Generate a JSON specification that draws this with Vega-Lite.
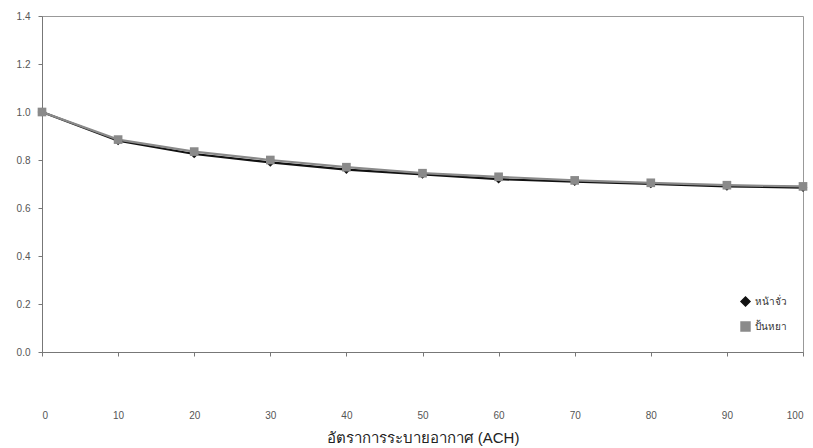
{
  "$schema": "https://vega.github.io/schema/vega-lite/v6.json",
  "width": 761,
  "height": 336,
  "autosize": {"type": "none"},
  "padding": {"left": 42, "top": 16, "right": 10, "bottom": 96},
  "background": "white",
  "config": {
    "view": {"stroke": "#999999", "strokeWidth": 1},
    "font": "Liberation Sans",
    "axis": {"grid": false, "domainColor": "#777777", "tickColor": "#777777", "labelColor": "#555555", "labelFont": "Liberation Sans", "labelFontSize": 10}
  },
  "data": {
    "values": [
      {"ach": 0, "v": 1.0, "s": "หน้าจั่ว"},
      {"ach": 10, "v": 0.88, "s": "หน้าจั่ว"},
      {"ach": 20, "v": 0.825, "s": "หน้าจั่ว"},
      {"ach": 30, "v": 0.79, "s": "หน้าจั่ว"},
      {"ach": 40, "v": 0.76, "s": "หน้าจั่ว"},
      {"ach": 50, "v": 0.74, "s": "หน้าจั่ว"},
      {"ach": 60, "v": 0.72, "s": "หน้าจั่ว"},
      {"ach": 70, "v": 0.71, "s": "หน้าจั่ว"},
      {"ach": 80, "v": 0.70, "s": "หน้าจั่ว"},
      {"ach": 90, "v": 0.69, "s": "หน้าจั่ว"},
      {"ach": 100, "v": 0.685, "s": "หน้าจั่ว"},
      {"ach": 0, "v": 1.0, "s": "ปั้นหยา"},
      {"ach": 10, "v": 0.885, "s": "ปั้นหยา"},
      {"ach": 20, "v": 0.835, "s": "ปั้นหยา"},
      {"ach": 30, "v": 0.80, "s": "ปั้นหยา"},
      {"ach": 40, "v": 0.77, "s": "ปั้นหยา"},
      {"ach": 50, "v": 0.745, "s": "ปั้นหยา"},
      {"ach": 60, "v": 0.73, "s": "ปั้นหยา"},
      {"ach": 70, "v": 0.715, "s": "ปั้นหยา"},
      {"ach": 80, "v": 0.705, "s": "ปั้นหยา"},
      {"ach": 90, "v": 0.695, "s": "ปั้นหยา"},
      {"ach": 100, "v": 0.69, "s": "ปั้นหยา"}
    ]
  },
  "encoding": {
    "x": {
      "field": "ach", "type": "quantitative",
      "scale": {"domain": [0, 100], "nice": false},
      "axis": {"values": [0, 10, 20, 30, 40, 50, 60, 70, 80, 90, 100], "labelPadding": 54, "tickSize": 4, "title": "อัตราการระบายอากาศ (ACH)", "titleFont": "Liberation Sans", "titleFontSize": 15, "titleFontWeight": "normal", "titleColor": "#222222", "titlePadding": 10}
    },
    "y": {
      "field": "v", "type": "quantitative",
      "scale": {"domain": [0, 1.4], "nice": false},
      "axis": {"values": [0, 0.2, 0.4, 0.6, 0.8, 1.0, 1.2, 1.4], "format": ".1f", "tickSize": 4, "labelPadding": 8, "title": null}
    },
    "color": {
      "field": "s", "type": "nominal",
      "scale": {"domain": ["หน้าจั่ว", "ปั้นหยา"], "range": ["#111111", "#8a8a8a"]},
      "legend": {"orient": "none", "legendX": 698, "legendY": 280, "title": null, "labelFontSize": 10, "labelColor": "#333333", "rowPadding": 10, "symbolSize": 80}
    },
    "shape": {
      "field": "s", "type": "nominal",
      "scale": {"domain": ["หน้าจั่ว", "ปั้นหยา"], "range": ["diamond", "square"]},
      "legend": {"orient": "none", "legendX": 698, "legendY": 280, "title": null, "labelFontSize": 10, "labelColor": "#333333", "rowPadding": 10, "symbolSize": 80}
    }
  },
  "layer": [
    {
      "mark": {"type": "line", "strokeWidth": 2.2},
      "encoding": {"size": {"value": 2.2}, "shape": {"value": "circle"}}
    },
    {
      "mark": {"type": "point", "filled": true, "size": 75, "opacity": 1}
    }
  ]
}
